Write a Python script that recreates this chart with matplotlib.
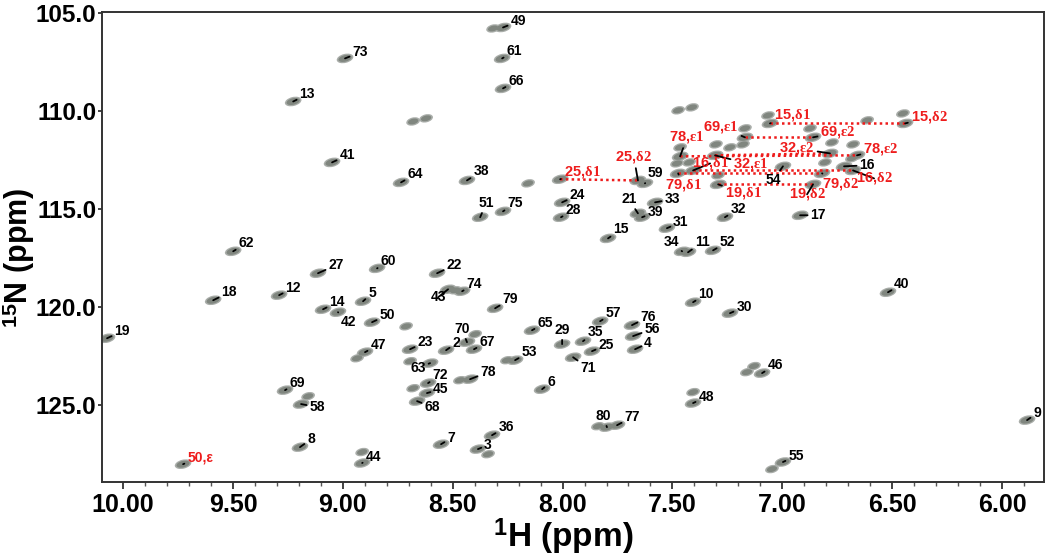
import matplotlib
matplotlib.use('Agg')
import matplotlib.pyplot as plt
import numpy as np
from matplotlib.collections import EllipseCollection
from matplotlib.ticker import MultipleLocator, FormatStrFormatter

plt.rcParams['font.family'] = ['Liberation Sans', 'DejaVu Sans']
plt.rcParams['font.weight'] = 'bold'
plt.rcParams['mathtext.fontset'] = 'custom'
plt.rcParams['mathtext.bf'] = 'Liberation Sans:bold'
plt.rcParams['mathtext.rm'] = 'Liberation Serif'
plt.rcParams['mathtext.it'] = 'Liberation Serif:italic'

# ---------------- data: backbone amide peaks ----------------
res_labels = ['13', '41', '62', '27', '73', '49', '61', '66', '64', '38', '51', '75',
              '24', '28', '21', '39', '33', '15', '60', '22', '59', '31', '32', '17',
              '34', '11', '52', '54', '16', '18', '12', '14', '42', '19', '69', '58',
              '8', '5', '50', '43', '74', '79', '70', '67', '2', '23', '47', '63',
              '72', '45', '68', '78', '53', '65', '29', '35', '25', '71', '57', '76',
              '56', '4', '6', '80', '77', '36', '3', '7', '44', '10', '30', '40',
              '46', '48', '9', '55']
res_h = [9.226, 9.049, 9.499, 9.113, 8.990, 8.271, 8.275, 8.271, 8.735, 8.435, 8.375, 8.271,
         8.002, 8.007, 7.657, 7.638, 7.579, 7.793, 8.844, 8.571, 7.625, 7.525, 7.261, 6.919,
         7.456, 7.429, 7.315, 6.997, 6.719, 9.590, 9.290, 9.090, 9.022, 10.073, 9.263, 9.190,
         9.195, 8.908, 8.867, 8.521, 8.457, 8.307, 8.435, 8.403, 8.530, 8.694, 8.899, 8.603,
         8.612, 8.617, 8.662, 8.421, 8.216, 8.139, 8.002, 7.907, 7.866, 7.952, 7.829, 7.684,
         7.679, 7.670, 8.093, 7.798, 7.752, 8.321, 8.385, 8.553, 8.912, 7.406, 7.238, 6.519,
         7.092, 7.406, 5.886, 6.997]
res_n = [109.52, 112.63, 117.17, 118.29, 107.32, 105.74, 107.32, 108.85, 113.65, 113.55, 115.43, 115.13,
         114.67, 115.43, 115.23, 115.43, 114.67, 116.51, 118.04, 118.29, 113.70, 115.99, 115.43, 115.33,
         117.17, 117.22, 117.12, 112.83, 112.83, 119.67, 119.41, 120.13, 120.28, 121.61, 124.26, 124.97,
         127.17, 119.72, 120.79, 119.11, 119.21, 120.08, 121.81, 122.17, 122.22, 122.17, 122.32, 122.88,
         123.90, 124.41, 124.82, 123.70, 122.73, 121.20, 121.91, 121.76, 122.27, 122.58, 120.74, 120.94,
         121.50, 122.17, 124.21, 126.15, 126.05, 126.56, 127.27, 127.02, 127.98, 119.77, 120.33, 119.26,
         123.39, 124.92, 125.79, 127.93]

# ---------------- data: side-chain peaks ----------------
sc_labels = ['50,ε', '25,δ1', '25,δ2', '15,δ1', '15,δ2', '69,ε1', '69,ε2', '78,ε1', '78,ε2',
             '32,ε1', '32,ε2', '16,δ1', '16,δ2', '79,δ1', '79,δ2', '19,δ1', '19,δ2']
sc_h = [9.727, 8.011, 7.657, 7.056, 6.441, 7.170, 6.860, 7.465, 6.660,
        7.306, 6.783, 7.406, 6.678, 7.474, 6.819, 7.292, 6.860]
sc_n = [128.04, 113.49, 113.55, 110.64, 110.64, 111.35, 111.35, 112.32, 112.27,
        112.27, 112.17, 113.04, 113.04, 113.19, 113.19, 113.75, 113.75]
sc_pairs = [('25,δ1', '25,δ2'), ('15,δ1', '15,δ2'), ('69,ε1', '69,ε2'), ('78,ε1', '78,ε2'),
            ('32,ε1', '32,ε2'), ('16,δ1', '16,δ2'), ('79,δ1', '79,δ2'), ('19,δ1', '19,δ2')]

# ---------------- data: unassigned peaks ----------------
un_h = [8.680, 8.621, 8.157, 7.474, 7.411, 7.065, 6.451, 6.614, 7.170, 6.874, 7.302, 7.238,
        7.179, 7.465, 7.479, 7.424, 7.292, 6.774, 6.678, 6.806, 6.683, 9.158, 8.712, 8.398,
        8.935, 8.694, 8.680, 8.253, 8.912, 8.339, 7.161, 7.129, 7.406, 7.047, 8.489, 7.839,
        8.467, 8.316]
un_n = [110.54, 110.38, 113.70, 109.97, 109.82, 110.23, 110.13, 110.48, 110.89, 110.89, 111.71, 111.86,
        111.71, 111.86, 112.68, 112.63, 113.29, 111.61, 111.71, 112.63, 112.42, 124.57, 121.00, 121.40,
        122.63, 122.78, 124.16, 122.73, 127.42, 127.53, 123.34, 123.03, 124.36, 128.29, 119.16, 126.10,
        123.75, 105.79]

x_ticks = [10.00, 9.50, 9.00, 8.50, 8.00, 7.50, 7.00, 6.50, 6.00]
y_ticks = [105.0, 110.0, 115.0, 120.0, 125.0]

# ---------------- layout: label offsets (pixels, x right / y down) ----------------
DEFAULT_OFF = (14, -7)
res_off = {'13': (14, -7), '41': (15, -7), '62': (13, -8), '27': (18, -8), '73': (15, -6),
           '49': (15, -6), '61': (12, -7), '66': (13, -7), '64': (14, -8), '38': (14, -9),
           '51': (6, -14), '75': (12, -8), '24': (15, -7), '28': (12, -7), '21': (-9, -14),
           '39': (13, -5), '33': (17, -3), '15': (13, -9), '60': (11, -7), '22': (17, -8),
           '59': (10, -10), '31': (14, -6), '32': (13, -8), '17': (18, 0), '34': (-11, -9),
           '11': (14, -10), '52': (14, -8), '54': (-10, 14), '16': (23, -1), '18': (16, -8),
           '12': (14, -7), '14': (14, -7), '42': (10, 10), '19': (15, -7), '69': (12, -7),
           '58': (16, 3), '8': (11, -8), '5': (9, -8), '50': (15, -7), '43': (-10, 8),
           '74': (12, -7), '79': (15, -9), '70': (-5, -13), '67': (13, -7), '2': (10, -7),
           '23': (15, -7), '47': (13, -7), '63': (-12, 5), '72': (12, -8), '45': (14, -4),
           '68': (15, 6), '78': (18, -7), '53': (14, -8), '65': (13, -7), '29': (0, -14),
           '35': (12, -9), '25': (14, -6), '71': (15, 11), '57': (13, -8), '76': (16, -8),
           '56': (19, -7), '4': (13, -6), '6': (9, -7), '80': (-4, -11), '77': (15, -8),
           '36': (14, -8), '3': (10, -4), '7': (10, -6), '44': (11, -6), '10': (13, -8),
           '30': (14, -6), '40': (14, -8), '46': (13, -8), '48': (13, -6), '9': (10, -7),
           '55': (13, -6)}
sc_off = {'50,ε': (17, -7), '25,δ1': (22, -7), '25,δ2': (-4, -23), '15,δ1': (22, -8),
          '15,δ2': (24, -6), '69,ε1': (-24, -10), '69,ε2': (25, -5), '78,ε1': (7, -19),
          '78,ε2': (24, -6), '32,ε1': (36, 9), '32,ε2': (-33, -5), '16,δ1': (17, -7),
          '16,δ2': (21, 8), '79,δ1': (5, 12), '79,δ2': (18, 11), '19,δ1': (25, 9),
          '19,δ2': (-6, 10)}

RED = '#ee1c1c'
PX = 72.0 / 100.0   # points per pixel

fig = plt.figure(figsize=(10.5, 5.59), dpi=100)
ax = fig.add_axes([102/1050, 1 - 482/559, (1044 - 102)/1050, (482 - 12)/559])
ax.set_xlim(10.096, 5.809)
ax.set_ylim(128.95, 104.95)


def draw_peaks(h, n, w=17, hgt=9, ang=14):
    offs = np.column_stack([h, n])
    k = len(h)
    outer = EllipseCollection(np.full(k, w * PX), np.full(k, hgt * PX), np.full(k, ang),
                              units='points', offsets=offs, offset_transform=ax.transData,
                              facecolors='#a9ada9', edgecolors='none', zorder=2)
    inner = EllipseCollection(np.full(k, (w - 3.5) * PX), np.full(k, (hgt - 2.5) * PX), np.full(k, ang),
                              units='points', offsets=offs, offset_transform=ax.transData,
                              facecolors='#80867f', edgecolors='none', zorder=2.1)
    ax.add_collection(outer)
    ax.add_collection(inner)


draw_peaks(res_h, res_n)
draw_peaks(sc_h, sc_n)
draw_peaks(un_h, un_n, w=14, hgt=8)

# dotted connectors for side-chain pairs
sc_pos = {lab: (h, n) for lab, h, n in zip(sc_labels, sc_h, sc_n)}
for a, b in sc_pairs:
    ax.plot([sc_pos[a][0], sc_pos[b][0]], [sc_pos[a][1], sc_pos[b][1]],
            color=RED, lw=1.8, ls=(0, (1.0, 1.3)), zorder=3, solid_capstyle='butt')


def put_label(txt, h, n, off, color, fs=10):
    dx, dy = off
    ax.annotate(txt, xy=(h, n), xytext=(dx * PX, -dy * PX), textcoords='offset points',
                ha='center', va='center', fontsize=fs, fontweight='bold', color=color,
                arrowprops=dict(arrowstyle='-', color='black', lw=1.3, shrinkA=0, shrinkB=0),
                zorder=5, annotation_clip=False)


for lab, h, n in zip(res_labels, res_h, res_n):
    put_label(lab, h, n, res_off.get(lab, DEFAULT_OFF), 'black')

for lab, h, n in zip(sc_labels, sc_h, sc_n):
    num, rest = lab.split(',')
    if len(rest) > 1:
        txt = r'$\mathbf{' + num + r',}\!\mathrm{' + rest + r'}$'
        put_label(txt, h, n, sc_off.get(lab, DEFAULT_OFF), RED, fs=10.5)
    else:
        put_label(lab, h, n, sc_off.get(lab, DEFAULT_OFF), RED, fs=10)

# axes styling
ax.set_xticks(x_ticks)
ax.set_yticks(y_ticks)
ax.xaxis.set_major_formatter(FormatStrFormatter('%.2f'))
ax.yaxis.set_major_formatter(FormatStrFormatter('%.1f'))
ax.xaxis.set_minor_locator(MultipleLocator(0.1))
ax.tick_params(axis='x', which='major', direction='out', length=5, width=1.2,
               labelsize=18, pad=3, colors='#222222', labelcolor='black')
ax.tick_params(axis='x', which='minor', direction='out', length=3, width=1.0, colors='#555555')
ax.tick_params(axis='y', which='major', direction='out', length=3, width=1.2,
               labelsize=17.5, pad=1.2, colors='#222222', labelcolor='black')
for lbl in ax.get_xticklabels() + ax.get_yticklabels():
    lbl.set_fontweight('bold')
for sp in ax.spines.values():
    sp.set_linewidth(1.4)
    sp.set_color('#333333')

fig.text(563/1050, 1 - 537/559, r'$^{\mathbf{1}}$H (ppm)', ha='center', va='center',
         fontsize=24, fontweight='bold')
fig.text(18.5/1050, 1 - 258/559, r'$^{\mathbf{15}}$N (ppm)', ha='center', va='center',
         rotation=90, fontsize=22, fontweight='bold')

fig.savefig('out.png', dpi=100, facecolor='white')
